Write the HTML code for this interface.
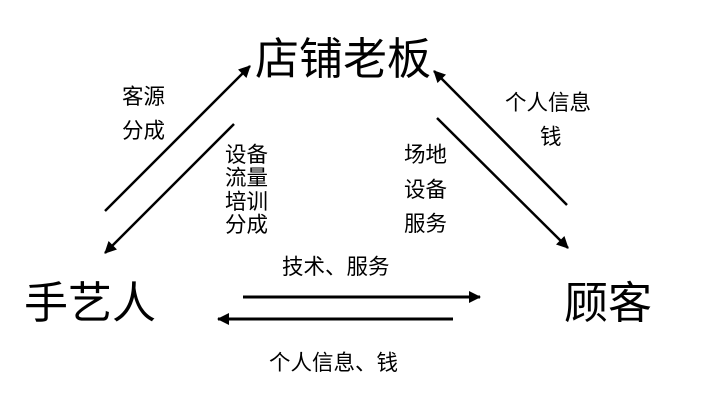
<!DOCTYPE html>
<html><head><meta charset="utf-8"><style>
body{margin:0;background:#fff;}
svg{display:block;}
text{font-family:"Liberation Sans","Noto Sans CJK SC",sans-serif;fill:#000;}
</style></head><body>
<svg width="707" height="412" viewBox="0 0 707 412" xmlns="http://www.w3.org/2000/svg">
<defs>
<marker id="a" markerWidth="12" markerHeight="12" refX="11" refY="6" orient="auto" markerUnits="userSpaceOnUse">
<path d="M0,0 L12,6 L0,12 z" fill="#000"/></marker>
</defs>
<g stroke="#000" stroke-width="2.5" fill="none">
<line x1="105" y1="211" x2="250" y2="66" marker-end="url(#a)"/>
<line x1="234" y1="124" x2="105" y2="253" marker-end="url(#a)"/>
<line x1="567" y1="205" x2="434" y2="71" marker-end="url(#a)"/>
<line x1="437" y1="118" x2="568" y2="248" marker-end="url(#a)"/>
<line x1="243" y1="297" x2="480" y2="297" stroke-width="3" marker-end="url(#a)"/>
<line x1="453" y1="319" x2="218" y2="319" stroke-width="3" marker-end="url(#a)"/>
</g>
<g font-size="44">
<text x="255" y="74">店铺老板</text>
<text x="24" y="318">手艺人</text>
<text x="564" y="318">顾客</text>
</g>
<g font-size="21.5">
<text x="122" y="104">客源</text>
<text x="122" y="138">分成</text>
<text x="225" y="162">设备</text>
<text x="225" y="185">流量</text>
<text x="225" y="209">培训</text>
<text x="225" y="232">分成</text>
<text x="404" y="162">场地</text>
<text x="404" y="197">设备</text>
<text x="404" y="231">服务</text>
<text x="505" y="110">个人信息</text>
<text x="540" y="144">钱</text>
<text x="282" y="274">技术、服务</text>
<text x="269" y="370">个人信息、钱</text>
</g>
</svg>
</body></html>
